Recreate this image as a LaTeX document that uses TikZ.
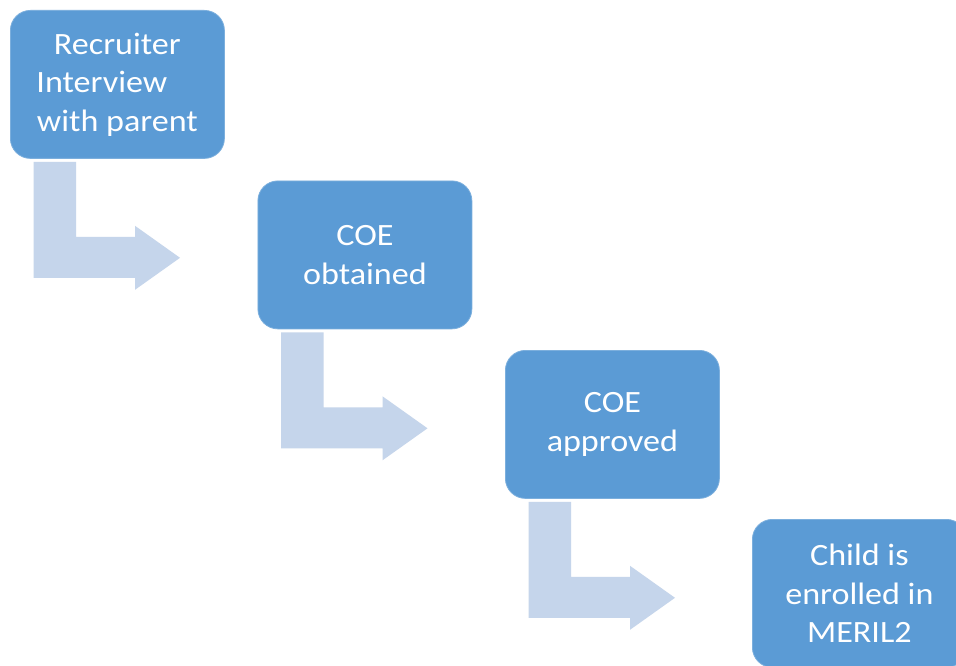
\documentclass[tikz,border=0pt]{standalone}
\usepackage{fontspec}
\setmainfont{Carlito}
\newfontfamily\boxfont[FakeStretch=1.1]{Carlito}
\usetikzlibrary{calc}
\definecolor{boxblue}{HTML}{5B9BD5}
\definecolor{arrowblue}{HTML}{C5D5EB}
\tikzset{
  stepbox/.style={fill=boxblue, draw=boxblue!80!white, line width=0.8pt, rounded corners=20pt,
    minimum width=214pt, minimum height=148pt, anchor=north west, text=white, align=center,
    font=\boxfont\fontsize{31}{38.5}\selectfont, inner sep=0pt},
  bentarrow/.style={fill=arrowblue, draw=none}
}
\newcommand{\bentarrowfrom}[1]{%
  \fill[bentarrow] ($(#1.south west)+(23.5,3)$) -- ++(42.5,0) -- ++(0,75) -- ++(59,0) -- ++(0,-11)
    -- ++(45,32) -- ++(-45,32) -- ++(0,-12) -- ++(-101.5,0) -- cycle;}
\begin{document}
\begin{tikzpicture}[x=1pt,y=-1pt]
\clip (0,0) rectangle (956,666);
\fill[white] (0,0) rectangle (956,666);
\node[stepbox] (b1) at (10,10) {Recruiter\\Interview\makebox[31pt]{}\\with parent};
\node[stepbox] (b2) at (257.5,180.5) {COE\\obtained};
\node[stepbox] (b3) at (505,350) {COE\\approved};
\node[stepbox] (b4) at (752,519) {Child is\\enrolled in\\MERIL2};
\bentarrowfrom{b1}
\bentarrowfrom{b2}
\bentarrowfrom{b3}
\end{tikzpicture}
\end{document}
